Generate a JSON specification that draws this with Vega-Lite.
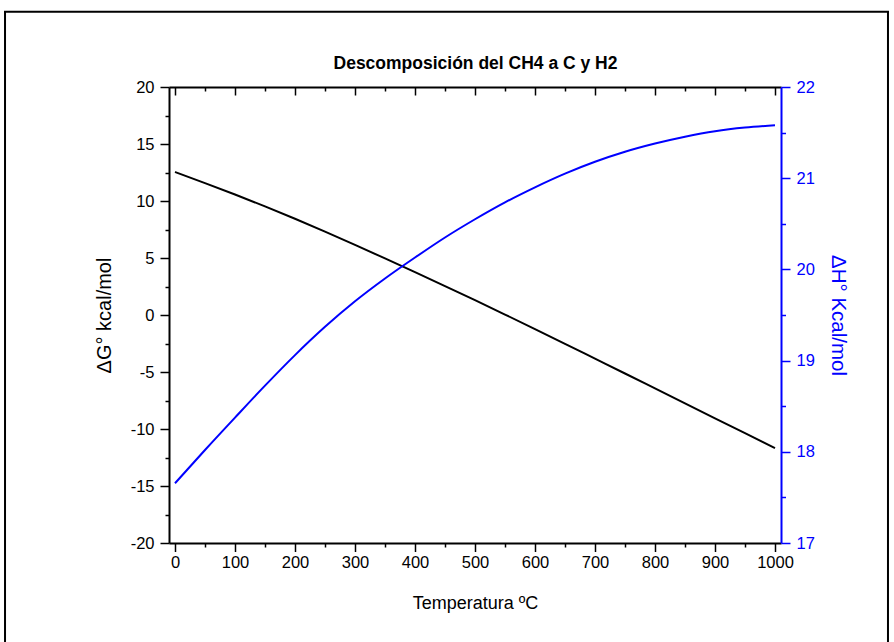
{
  "$schema": "https://vega.github.io/schema/vega-lite/v6.json",
  "width": 612,
  "height": 456,
  "autosize": {"type": "none"},
  "padding": {"left": 169, "top": 87, "right": 113, "bottom": 99},
  "background": "white",
  "config": {"view": {"stroke": null}},
  "data": {
    "values": [
      {"T": 0, "dG": 12.54, "dH": 17.655},
      {"T": 50, "dG": 11.57, "dH": 18.02},
      {"T": 100, "dG": 10.57, "dH": 18.375},
      {"T": 150, "dG": 9.53, "dH": 18.725},
      {"T": 200, "dG": 8.44, "dH": 19.06},
      {"T": 250, "dG": 7.31, "dH": 19.37},
      {"T": 300, "dG": 6.15, "dH": 19.65},
      {"T": 350, "dG": 4.96, "dH": 19.9},
      {"T": 400, "dG": 3.76, "dH": 20.13},
      {"T": 450, "dG": 2.54, "dH": 20.35},
      {"T": 500, "dG": 1.3, "dH": 20.55},
      {"T": 550, "dG": 0.04, "dH": 20.735},
      {"T": 600, "dG": -1.24, "dH": 20.9},
      {"T": 650, "dG": -2.53, "dH": 21.05},
      {"T": 700, "dG": -3.83, "dH": 21.18},
      {"T": 750, "dG": -5.13, "dH": 21.29},
      {"T": 800, "dG": -6.44, "dH": 21.38},
      {"T": 850, "dG": -7.75, "dH": 21.455},
      {"T": 900, "dG": -9.06, "dH": 21.515},
      {"T": 950, "dG": -10.37, "dH": 21.555},
      {"T": 1000, "dG": -11.68, "dH": 21.58}
    ]
  },
  "resolve": {
    "scale": {"y": "independent"},
    "axis": {"x": "independent", "y": "independent"}
  },
  "layer": [
    {
      "data": {"values": [{}]},
      "mark": {"type": "rect", "fill": "transparent", "stroke": "black", "strokeWidth": 2, "clip": false},
      "encoding": {
        "x": {"datum": -283.3, "type": "quantitative", "scale": {"domain": [-10, 1010], "nice": false}, "axis": null},
        "x2": {"datum": 1188.3},
        "y": {"datum": 26.6, "type": "quantitative", "scale": {"domain": [-20, 20], "nice": false}, "axis": null},
        "y2": {"datum": -30}
      }
    },
    {
      "mark": {"type": "line", "color": "black", "strokeWidth": 2, "interpolate": "monotone", "clip": true},
      "encoding": {
        "x": {
          "field": "T", "type": "quantitative",
          "scale": {"domain": [-10, 1010], "nice": false, "zero": false},
          "axis": {
            "orient": "bottom",
            "values": [0, 50, 100, 150, 200, 250, 300, 350, 400, 450, 500, 550, 600, 650, 700, 750, 800, 850, 900, 950, 1000],
            "labelExpr": "datum.value % 100 === 0 ? '' + datum.value : ''",
            "tickSize": {"condition": {"test": "datum.value % 100 !== 0", "value": 4}, "value": 8.5},
            "tickWidth": 1.5, "tickColor": "black",
            "domainColor": "black", "domainWidth": 2,
            "grid": false,
            "labelFont": "Liberation Sans", "labelFontSize": 16.5, "labelColor": "black",
            "labelPadding": 3, "labelFlush": false, "labelOverlap": false,
            "title": "Temperatura ºC",
            "titleFont": "Liberation Sans", "titleFontSize": 18, "titleFontWeight": "normal", "titleColor": "black",
            "titlePadding": 23
          }
        },
        "y": {
          "field": "dG", "type": "quantitative",
          "scale": {"domain": [-20, 20], "nice": false, "zero": false},
          "axis": {
            "orient": "left",
            "values": [-20, -17.5, -15, -12.5, -10, -7.5, -5, -2.5, 0, 2.5, 5, 7.5, 10, 12.5, 15, 17.5, 20],
            "labelExpr": "datum.value % 5 === 0 ? '' + datum.value : ''",
            "tickSize": {"condition": {"test": "datum.value % 5 !== 0", "value": 4}, "value": 9},
            "tickWidth": 1.5, "tickColor": "black",
            "domainColor": "black", "domainWidth": 2,
            "grid": false,
            "labelFont": "Liberation Sans", "labelFontSize": 16.5, "labelColor": "black",
            "labelPadding": 6, "labelFlush": false, "labelOverlap": false,
            "title": "ΔG° kcal/mol",
            "titleFont": "Liberation Sans", "titleFontSize": 20, "titleFontWeight": "normal", "titleColor": "black",
            "titlePadding": 16
          }
        }
      }
    },
    {
      "mark": {"type": "line", "color": "#0000FF", "strokeWidth": 2, "interpolate": "monotone", "clip": true},
      "encoding": {
        "x": {
          "field": "T", "type": "quantitative",
          "scale": {"domain": [-10, 1010], "nice": false, "zero": false},
          "axis": {
            "orient": "top",
            "values": [0, 50, 100, 150, 200, 250, 300, 350, 400, 450, 500, 550, 600, 650, 700, 750, 800, 850, 900, 950, 1000],
            "labels": false,
            "tickSize": {"condition": {"test": "datum.value % 100 !== 0", "value": -4}, "value": -8},
            "tickWidth": 1.5, "tickColor": "black",
            "domainColor": "black", "domainWidth": 2,
            "grid": false,
            "title": "Descomposición del CH4 a C y H2",
            "titleFont": "Liberation Sans", "titleFontSize": 17.5, "titleFontWeight": "bold", "titleColor": "black",
            "titlePadding": 14
          }
        },
        "y": {
          "field": "dH", "type": "quantitative",
          "scale": {"domain": [17, 22], "nice": false, "zero": false},
          "axis": {
            "orient": "right",
            "values": [17, 17.5, 18, 18.5, 19, 19.5, 20, 20.5, 21, 21.5, 22],
            "labelExpr": "datum.value % 1 === 0 ? '' + datum.value : ''",
            "tickSize": {"condition": {"test": "datum.value % 1 !== 0", "value": 4.5}, "value": 9},
            "tickWidth": 1.5, "tickColor": "#0000FF",
            "domainColor": "#0000FF", "domainWidth": 2,
            "grid": false,
            "labelFont": "Liberation Sans", "labelFontSize": 16.5, "labelColor": "#0000FF",
            "labelPadding": 6, "labelFlush": false, "labelOverlap": false,
            "title": "ΔH° Kcal/mol",
            "titleFont": "Liberation Sans", "titleFontSize": 20.5, "titleFontWeight": "normal", "titleColor": "#0000FF",
            "titlePadding": 13
          }
        }
      }
    }
  ]
}
